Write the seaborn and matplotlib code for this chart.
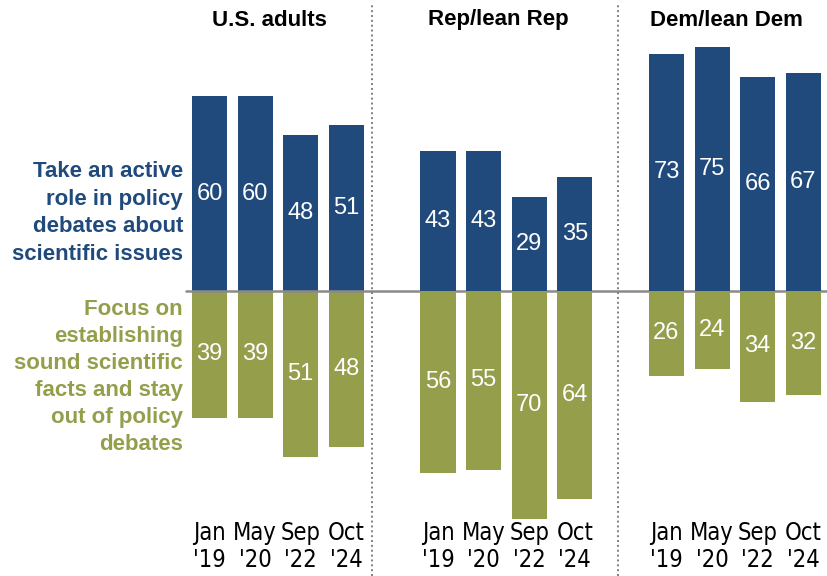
import matplotlib
matplotlib.use("Agg")
import matplotlib.pyplot as plt
from matplotlib.lines import Line2D
from matplotlib import font_manager
from matplotlib.font_manager import FontProperties
import pandas as pd
import seaborn as sns

# ---- data -------------------------------------------------------------
groups = ["U.S. adults", "Rep/lean Rep", "Dem/lean Dem"]
periods = ["Jan\n'19", "May\n'20", "Sep\n'22", "Oct\n'24"]
stances = ["Take an active\nrole in policy\ndebates about\nscientific issues",
           "Focus on\nestablishing\nsound scientific\nfacts and stay\nout of policy\ndebates"]
active_role = {
    "U.S. adults": [60, 60, 48, 51],
    "Rep/lean Rep": [43, 43, 29, 35],
    "Dem/lean Dem": [73, 75, 66, 67],
}
stay_out = {
    "U.S. adults": [39, 39, 51, 48],
    "Rep/lean Rep": [56, 55, 70, 64],
    "Dem/lean Dem": [26, 24, 34, 32],
}

BLUE = "#204A7B"
OLIVE = "#959E4B"
GRAY = "#8A8A8A"

rows = []
for g in groups:
    for p, a, s in zip(periods, active_role[g], stay_out[g]):
        rows.append({"group": g, "period": p, "stance": stances[0], "value": a, "signed": a})
        rows.append({"group": g, "period": p, "stance": stances[1], "value": s, "signed": -s})
df = pd.DataFrame(rows)

# ---- fonts ------------------------------------------------------------
sns.set_theme(style="white")
plt.rcParams["font.family"] = ["Liberation Sans", "DejaVu Sans"]


def find_condensed():
    """Pick a narrow regular face for the date labels if one is installed."""
    wanted = ["LiberationSansNarrow-Regular", "DejaVuSansCondensed.ttf",
              "NotoSans-Condensed", "NotoSansCondensed"]
    files = [f.fname for f in font_manager.fontManager.ttflist]
    for key in wanted:
        for fn in files:
            if key in fn.replace("\\", "/").split("/")[-1] and "Bold" not in fn and "Oblique" not in fn:
                return FontProperties(fname=fn), True
    return FontProperties(family="Liberation Sans"), False


tick_fp, is_narrow = find_condensed()
tick_fp.set_size(17 if is_narrow else 16)

W, H = 828, 576
fig = plt.figure(figsize=(W / 100, H / 100), dpi=100)

px_per_unit = 3.25
zero_px = 291          # zero line, pixels from top
top_px, bottom_px = 30, 520
slot = 45.6            # horizontal space per bar
panel_left = [186.7, 415.2, 643.7]
panel_w = 4 * slot

ylim = (-(bottom_px - zero_px) / px_per_unit, (zero_px - top_px) / px_per_unit)

axes = []
for g, left in zip(groups, panel_left):
    ax = fig.add_axes([left / W, 1 - bottom_px / H, panel_w / W, (bottom_px - top_px) / H])
    sub = df[df["group"] == g]
    sns.barplot(data=sub, x="period", y="signed", hue="stance",
                order=periods, hue_order=stances, palette=[BLUE, OLIVE],
                dodge=False, width=0.77, saturation=1, linewidth=0,
                legend=False, ax=ax)
    for cont, vals in zip(ax.containers, [active_role[g], stay_out[g]]):
        ax.bar_label(cont, labels=[str(v) for v in vals], label_type="center",
                     color="white", fontsize=17, fontfamily="Liberation Sans")
    ax.set_xlim(-0.5, 3.5)
    ax.set_ylim(*ylim)
    ax.set_yticks([])
    ax.set_xticks(range(len(periods)), labels=periods, fontproperties=tick_fp,
                  linespacing=1.13, color="black")
    ax.set_xlabel("")
    ax.set_ylabel("")
    ax.tick_params(axis="x", length=0, pad=1)
    sns.despine(ax=ax, left=True, bottom=True)
    ax.text(0.455, 1 + (top_px - 20) / (bottom_px - top_px), g,
            transform=ax.transAxes, ha="center", va="center",
            fontsize=16, fontweight="bold", color="black")
    ax.patch.set_alpha(0)
    axes.append(ax)

# zero baseline across all panels
ax0 = axes[0]
ax0.axhline(0, xmin=(186 - panel_left[0]) / panel_w, xmax=(W - panel_left[0]) / panel_w,
            color=GRAY, lw=1.8, clip_on=False, zorder=5)

# side labels for the two answers
label_x = -0.5 + (183 - panel_left[0]) / slot
ax0.text(label_x, (zero_px - 213) / px_per_unit, stances[0], ha="right", va="center",
         color=BLUE, fontsize=16, fontweight="bold", linespacing=1.42)
ax0.text(label_x, (zero_px - 377) / px_per_unit, stances[1], ha="right", va="center",
         color=OLIVE, fontsize=16, fontweight="bold", linespacing=1.38)

# dotted separators between panels
for xp in (372, 618):
    fig.add_artist(Line2D([xp / W, xp / W], [0, 1 - 5 / H], transform=fig.transFigure,
                          color="#7F7F7F", lw=1.4, linestyle=(0, (1, 1.5))))

fig.savefig("out.png", dpi=100)
